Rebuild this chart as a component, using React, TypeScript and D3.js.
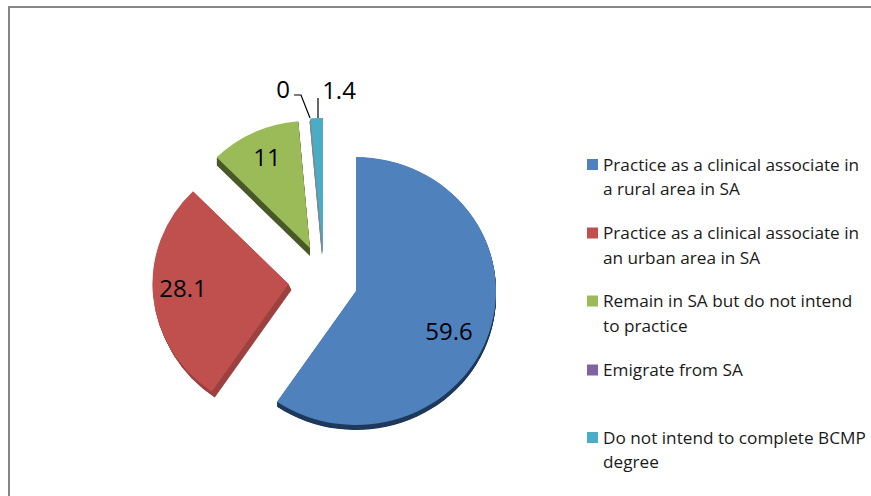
import React from "react";
import * as d3 from "d3";

const categories = [
  "Practice as a clinical associate in a rural area in SA",
  "Practice as a clinical associate in an urban area in SA",
  "Remain in SA but do not intend to practice",
  "Emigrate from SA",
  "Do not intend to complete BCMP degree",
];
const values = [59.6, 28.1, 11, 0, 1.4];
const valueLabels = ["59.6", "28.1", "11", "0", "1.4"];
const colors = ["#4f81bd", "#c0504d", "#9bbb59", "#8064a2", "#4bacc6"];
const sideColors = ["#1f3a5c", "#9c4341", "#4a5a28", "#4a3a60", "#7f8a90"];
const apexX = [356, 288.5, 310, 318, 323];
const apexY = [291, 284, 248, 250, 252];
const radii = [140, 136, 133, 140, 140];
const sideDx = [0, 3, 0, 0, -1.2];
const sideDy = [5, 6, 8, 3, 3];
const legendLines = [
  ["Practice as a clinical associate in", "a rural area in SA"],
  ["Practice as a clinical associate in", "an urban area in SA"],
  ["Remain in SA but do not intend", "to practice"],
  ["Emigrate from SA"],
  ["Do not intend to complete BCMP", "degree"],
];
const legendY = [164.5, 233, 301, 370, 437.5];
const labelX = [449, 183, 267, 283, 339];
const labelY = [331, 288, 157, 89, 90];
const font = "'Open Sans', Lato, sans-serif";

export default function App() {
  const arcs = d3.pie<number>().sort(null)(values);
  const squash = 134 / 140;
  const arcFor = (r: number) => d3.arc<d3.PieArcDatum<number>>().innerRadius(0).outerRadius(r);
  return (
    <svg width={871} height={496} style={{ position: "absolute", left: 0, top: 0, background: "#fff" }}>
      <path d="M871,7 H9 V496" fill="none" stroke="#868686" strokeWidth={2} />
      {arcs.map((a, i) => {
        const path = arcFor(radii[i])(a) || "";
        const steps = d3.range(1, 0, -0.1);
        return (
          <g key={i}>
            {steps.map((t) => (
              <path key={t} d={path} fill={sideColors[i]}
                transform={`translate(${apexX[i] + sideDx[i] * t},${apexY[i] + sideDy[i] * t}) scale(1,${squash})`} />
            ))}
            <path d={path} fill={colors[i]}
              transform={`translate(${apexX[i]},${apexY[i]}) scale(1,${squash})`} />
          </g>
        );
      })}
      <path d="M294,95 H301 L310,118" fill="none" stroke="#000" strokeWidth={1.2} />
      <path d="M318,98 V118" fill="none" stroke="#000" strokeWidth={1.2} />
      {valueLabels.map((t, i) => (
        <text key={i} x={labelX[i]} y={labelY[i] + 8.5} textAnchor="middle" fontFamily={font} fontSize={24} fill="#000">{t}</text>
      ))}
      {categories.map((c, i) => (
        <g key={c}>
          <rect x={587} y={legendY[i] - 5.5} width={11} height={11} fill={colors[i]} />
          {legendLines[i].map((line, j) => (
            <text key={j} x={603} y={legendY[i] + 6 + j * 24.5} fontFamily={font} fontSize={17.2} fill="#1a1a1a">{line}</text>
          ))}
        </g>
      ))}
    </svg>
  );
}
